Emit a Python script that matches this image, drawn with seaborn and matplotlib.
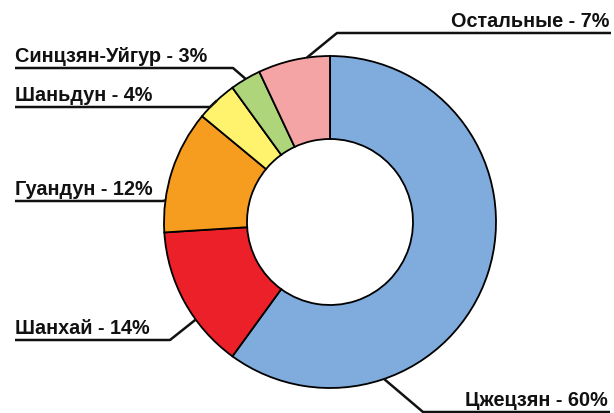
import numpy as np
import matplotlib
matplotlib.use("Agg")
import matplotlib.pyplot as plt
import seaborn as sns

# данные
regions = ["Цжецзян", "Шанхай", "Гуандун", "Шаньдун", "Синцзян-Уйгур", "Остальные"]
shares = [60, 14, 12, 4, 3, 7]
colors = ["#7FACDD", "#EC2028", "#F69D1F", "#FFF36E", "#AFD57A", "#F4A4A4"]

sns.set_theme(style="white")
plt.rcParams["font.family"] = ["Liberation Sans", "DejaVu Sans"]

W, H = 614, 413
fig = plt.figure(figsize=(W / 100, H / 100), dpi=100)
ax = fig.add_axes([0, 0, 1, 1])

cx, cy = 330, H - 222   # центр кольца
R = 166

wedges, _ = ax.pie(shares, colors=colors, startangle=90, counterclock=False,
                   radius=R, center=(cx, cy),
                   wedgeprops=dict(width=R * 0.5, edgecolor="black", linewidth=1.3))

# подписи: угол точки на кольце, x/y подчёркивания (в пикселях сверху), сторона
layout = {
    "Остальные":     (98,   337, 611, 33,  "right"),
    "Синцзян-Уйгур": (120.5, 15, 233, 68,  "left"),
    "Шаньдун":       (133,   15, 210, 107, "left"),
    "Гуандун":       (172.5, 15, 163, 201, "left"),
    "Шанхай":        (216,   15, 170, 340, "left"),
    "Цжецзян":       (-71,  423, 610, 412, "right"),
}

for name, val in zip(regions, shares):
    ang, x0, x1, uy, side = layout[name]
    a = np.deg2rad(ang)
    px, py = cx + R * np.cos(a), cy + R * np.sin(a)
    yy = H - uy
    if side == "left":
        xs, ys = [x0, x1, px], [yy, yy, py]
        ax.text(x0, yy + 6, f"{name} - {val}%", ha="left", va="baseline",
                fontsize=14.3, fontweight="bold", color="#111111")
    else:
        xs, ys = [px, x0, x1], [py, yy, yy]
        ax.text(x1 - 2, yy + 6, f"{name} - {val}%", ha="right", va="baseline",
                fontsize=14.3, fontweight="bold", color="#111111")
    ax.plot(xs, ys, color="#111111", lw=1.8, solid_capstyle="butt", clip_on=False)

ax.set_xlim(0, W)
ax.set_ylim(0, H)
ax.set_aspect("equal")
ax.axis("off")

fig.savefig("out.png", dpi=100)
